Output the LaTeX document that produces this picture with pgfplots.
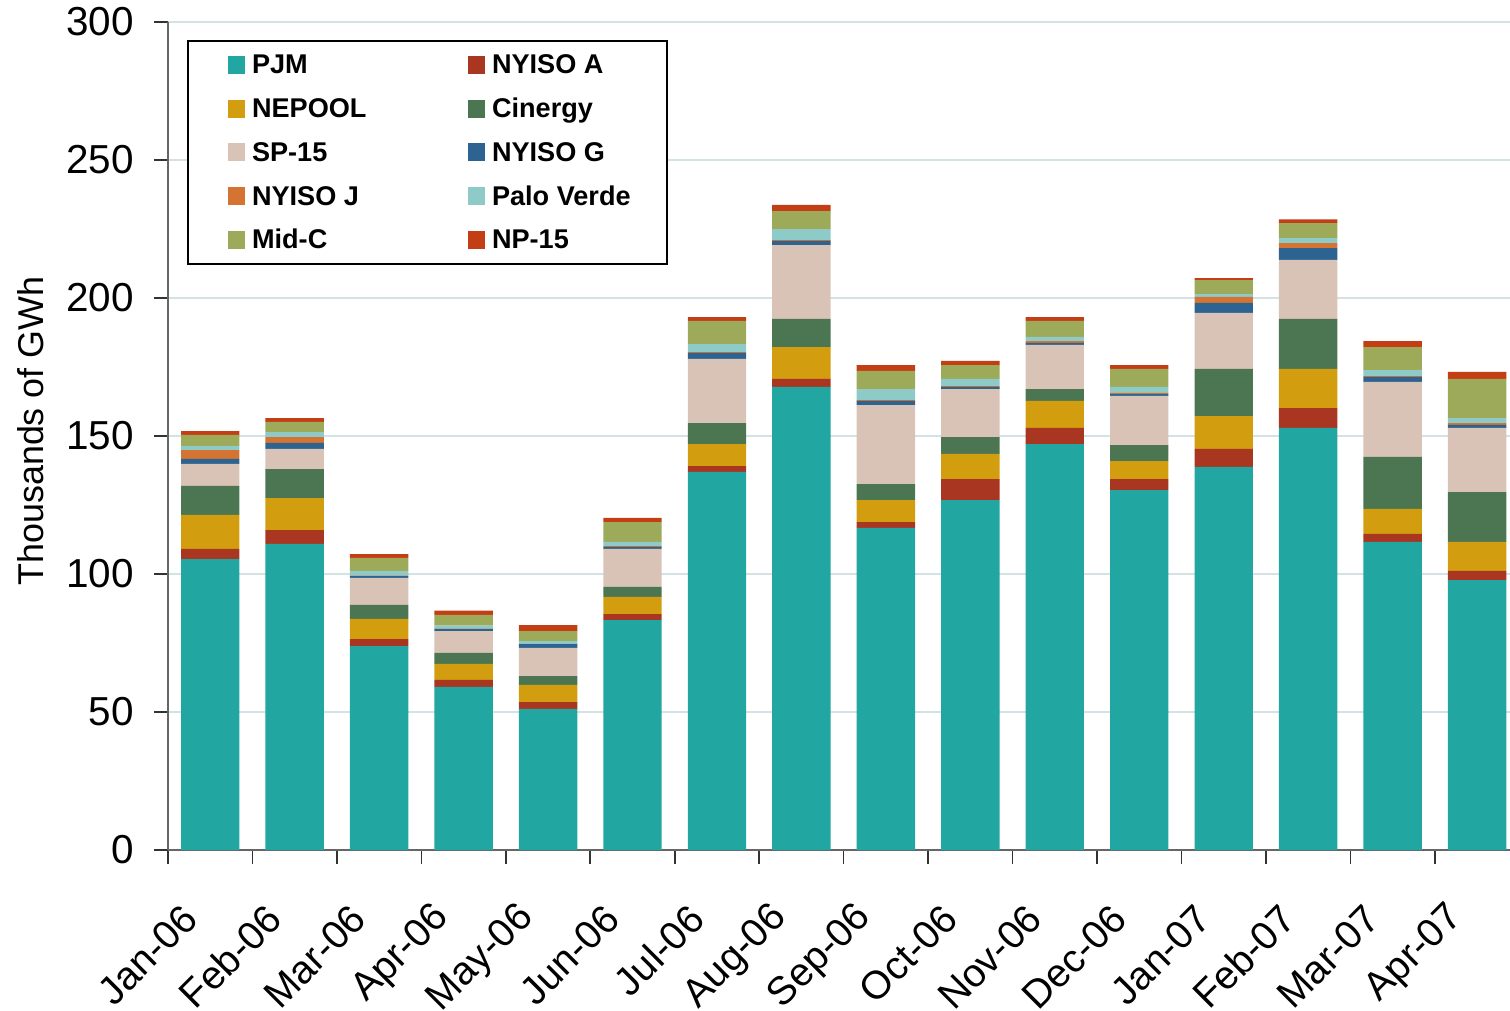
\documentclass[border=0pt]{standalone}
\usepackage{pgfplots}
\pgfplotsset{compat=1.18}
\usepackage{pgfplotstable}
\usepackage{fontspec}
\setmainfont{Liberation Sans}
\definecolor{cPJM}{HTML}{22A6A2}
\definecolor{cNYA}{HTML}{A93620}
\definecolor{cNEP}{HTML}{D29E0F}
\definecolor{cCIN}{HTML}{4B7651}
\definecolor{cSP}{HTML}{D9C3B6}
\definecolor{cNYG}{HTML}{2C6391}
\definecolor{cNYJ}{HTML}{D47332}
\definecolor{cPV}{HTML}{8ECBC8}
\definecolor{cMID}{HTML}{9CAA5A}
\definecolor{cNP}{HTML}{C33D15}
\definecolor{gridc}{HTML}{D3E2E5}
\pgfplotstableread{
x PJM NYA NEP CIN SP NYG NYJ PV MID NP
0 105.4 3.7 12.3 10.5 8.0 1.8 3.2 1.5 4.0 1.4
1 110.9 5.0 11.6 10.5 7.3 2.2 2.1 1.8 3.7 1.4
2 73.9 2.5 7.3 5.1 9.8 0.7 0.1 1.7 4.7 1.4
3 59.1 2.5 5.8 4.0 7.9 0.8 0.1 1.1 3.9 1.5
4 51.1 2.5 6.2 3.2 10.2 1.4 0.1 1.0 3.6 2.2
5 83.3 2.2 6.2 3.6 13.8 0.7 0.3 1.5 7.2 1.5
6 137.0 2.1 8.0 7.6 23.2 2.2 0.3 2.9 8.4 1.4
7 167.8 2.9 11.5 10.2 26.8 1.5 0.3 4.0 6.5 2.2
8 116.7 2.1 8.0 5.8 28.6 1.5 0.3 4.0 6.6 2.1
9 126.8 7.6 9.1 6.1 17.4 0.8 0.3 2.6 5.0 1.5
10 147.1 5.8 9.8 4.3 16.0 0.7 0.7 1.5 5.8 1.4
11 130.4 4.0 6.5 5.8 17.8 0.7 0.4 2.2 6.5 1.4
12 138.8 6.5 11.9 17.1 20.3 3.6 2.2 1.0 5.1 0.7
13 152.9 7.2 14.2 18.1 21.4 4.3 1.8 1.8 5.4 1.4
14 111.6 2.9 9.1 18.8 27.2 1.8 0.3 2.2 8.3 2.2
15 97.8 3.3 10.5 18.1 23.2 1.1 0.7 1.8 14.2 2.5
}\data
\begin{document}
\begin{tikzpicture}
\begin{axis}[
  scale only axis, width=671bp, height=414bp,
  xmin=-0.5, xmax=15.39, ymin=0, ymax=300,
  ybar stacked, bar width=29.2bp,
  axis x line*=bottom, axis y line*=left,
  axis line style={draw=black!60, line width=1bp},
  ytick={0,50,...,300},
  xtick={0,...,15},
  xticklabels={Jan-06,Feb-06,Mar-06,Apr-06,May-06,Jun-06,Jul-06,Aug-06,Sep-06,Oct-06,Nov-06,Dec-06,Jan-07,Feb-07,Mar-07,Apr-07},
  minor xtick={-0.5,0.5,...,14.5},
  tick align=outside,
  major tick length=7bp, minor tick length=7bp,
  tick style={draw=black!80, line width=0.8bp},
  every major x tick/.append style={draw=none},
  ymajorgrids, grid style={draw=gridc, line width=1.3bp},
  /pgf/number format/assume math mode=true,
  yticklabel style={font=\fontsize{20.3}{24}\selectfont, inner sep=0pt, anchor=east, xshift=-10bp},
  xticklabel style={font=\fontsize{19.8}{24}\selectfont, inner sep=0pt, xshift=-10bp, yshift=-24bp, rotate=45, anchor=east},
  ylabel={Thousands of GWh},
  ylabel style={font=\fontsize{18}{22}\selectfont, at={(rel axis cs:-0.1021,0.506)}, anchor=center, rotate=0},
  legend columns=2,
  legend cell align=left,
  legend image code/.code={\fill[#1, draw=none] (0bp,-4.5bp) rectangle (8.5bp,4.5bp);},
  legend style={at={(0.0142,0.9783)}, anchor=north west, draw=black, line width=1bp,
    inner xsep=20bp, inner ysep=5.2bp, font=\fontsize{13.6}{16}\bfseries\selectfont,
    row sep=8.5bp, column sep=0pt,
    /tikz/every odd column/.append style={column sep=3.5bp},
    nodes={inner sep=0pt, text height=11.2bp, text depth=2.2bp}},
]
\addplot[fill=cPJM, draw=none] table[x=x,y=PJM]{\data};
\addlegendentry{\makebox[108bp][l]{PJM}}
\addplot[fill=cNYA, draw=none] table[x=x,y=NYA]{\data};
\addlegendentry{\makebox[67.5bp][l]{NYISO A}}
\addplot[fill=cNEP, draw=none] table[x=x,y=NEP]{\data};
\addlegendentry{\makebox[108bp][l]{NEPOOL}}
\addplot[fill=cCIN, draw=none] table[x=x,y=CIN]{\data};
\addlegendentry{\makebox[67.5bp][l]{Cinergy}}
\addplot[fill=cSP, draw=none] table[x=x,y=SP]{\data};
\addlegendentry{\makebox[108bp][l]{SP-15}}
\addplot[fill=cNYG, draw=none] table[x=x,y=NYG]{\data};
\addlegendentry{\makebox[67.5bp][l]{NYISO G}}
\addplot[fill=cNYJ, draw=none] table[x=x,y=NYJ]{\data};
\addlegendentry{\makebox[108bp][l]{NYISO J}}
\addplot[fill=cPV, draw=none] table[x=x,y=PV]{\data};
\addlegendentry{\makebox[67.5bp][l]{Palo Verde}}
\addplot[fill=cMID, draw=none] table[x=x,y=MID]{\data};
\addlegendentry{\makebox[108bp][l]{Mid-C}}
\addplot[fill=cNP, draw=none] table[x=x,y=NP]{\data};
\addlegendentry{\makebox[67.5bp][l]{NP-15}}
\coordinate (SW) at (rel axis cs:0,0);
\coordinate (NE) at (rel axis cs:1,1);
\end{axis}
\pgfresetboundingbox
\path[use as bounding box] ([shift={(-84bp,-80.5bp)}]SW) rectangle ([shift={(0bp,11bp)}]NE);
\end{tikzpicture}
\end{document}
